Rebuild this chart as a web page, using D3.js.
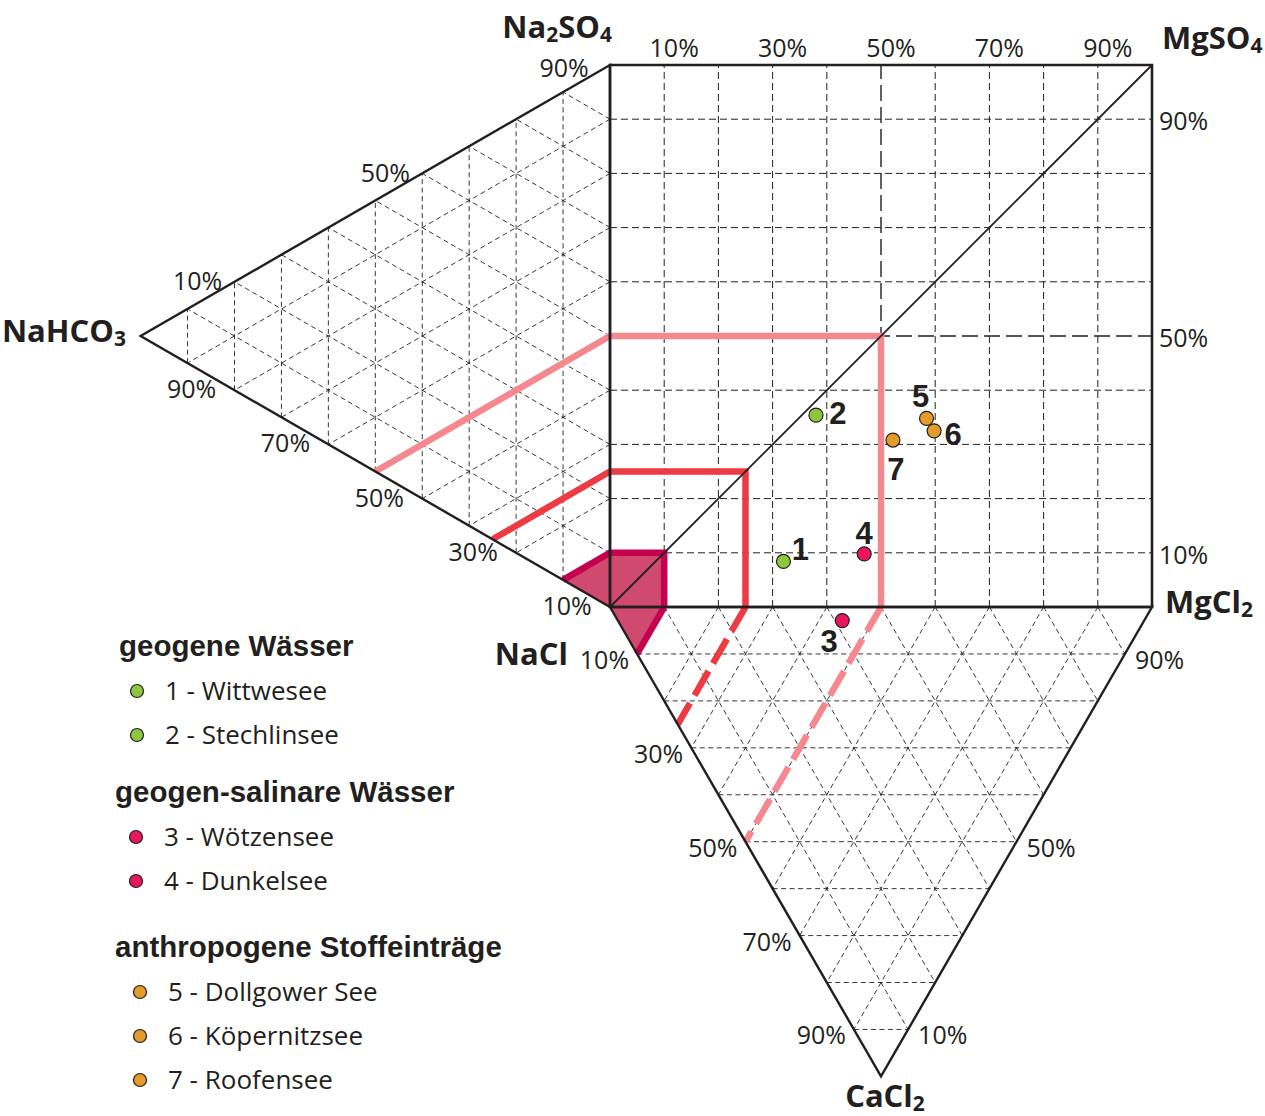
<!DOCTYPE html>
<meta charset="utf-8">

<!-- Load d3.js -->
<script src="https://cdn.jsdelivr.net/npm/d3@7"></script>

<style>
  body { margin: 0; background: #fff; }
  text { fill: #231f20; }
</style>

<body>
<div id="chart"></div>

<script>

// grid steps (%)
var steps = [10, 20, 30, 40, 50, 60, 70, 80, 90];

// tick labels
var topTicks = [10, 30, 50, 70, 90];          // top of the square
var rightTicks = [90, 50, 10];                // right of the square
var leftUpperTicks = [10, 50, 90];            // Na2SO4 on the NaHCO3 - Na2SO4 side
var leftLowerTicks = [90, 70, 50, 30, 10];    // NaHCO3 on the NaHCO3 - NaCl side
var bottomLeftTicks = [10, 30, 50, 70, 90];   // CaCl2 on the NaCl - CaCl2 side
var bottomRightTicks = [90, 50, 10];          // MgCl2 on the MgCl2 - CaCl2 side

// limits of the three fields (%), outer to inner
var zoneLimits = [50, 25, 10];

// lakes
var lakeIds = [1, 2, 3, 4, 5, 6, 7];
var lakeNames = ["Wittwesee", "Stechlinsee", "Wötzensee", "Dunkelsee",
                 "Dollgower See", "Köpernitzsee", "Roofensee"];
var lakeGroup = [0, 0, 1, 1, 2, 2, 2];
var lakeMg  = [32.0, 38.0, 41.4, 46.9, 58.4, 59.8, 52.2];   // % along NaCl -> MgCl2
var lakeSO4 = [8.4, 35.4, 0, 9.8, 34.8, 32.5, 30.8];        // % along NaCl -> Na2SO4
var lakeCa  = [0, 0, 2.9, 0, 0, 0, 0];                      // % CaCl2 (lower triangle)

var groupNames = ["geogene Wässer", "geogen-salinare Wässer", "anthropogene Stoffeinträge"];

// styles
var zoneColors = ["#f4888e", "#ee3a43", "#c4004f"];
var zoneDashed = [true, true, false];
var groupColors = ["#8dc63f", "#e6175c", "#e39b2a"];
// number label offsets next to each point
var numDx = [17, 22, -13, 0, -6, 19, 3];
var numDy = [-1, 9, 31, -10, -11, 14, 40];

var W = 1265, H = 1116;

var svg = d3.select("#chart")
  .append("svg")
    .attr("width", W)
    .attr("height", H);

svg.append("rect").attr("width", W).attr("height", H).attr("fill", "#fff");

// square scales
var x = d3.scaleLinear().domain([0, 100]).range([610, 1152]);
var y = d3.scaleLinear().domain([0, 100]).range([607, 65]);
var side = x(100) - x(0);
var tri = side * Math.sqrt(3) / 2;

// left triangle: s = Na2SO4 %, h = NaHCO3 %
function left(s, h) { return [x(0) - h / 100 * tri, y(s) - h / 100 * side / 2]; }
// lower triangle: m = MgCl2 %, c = CaCl2 %
function bottom(m, c) { return [x(m) + c / 100 * side / 2, y(0) + c / 100 * tri]; }
function sq(a, b) { return [x(a), y(b)]; }

var line = d3.line();

// ---- dashed grid
var grid = svg.append("g").attr("fill", "none").attr("stroke", "#231f20");

steps.forEach(function(k) {
  var big = (k == 50);
  grid.append("path").attr("d", line([sq(k, 0), sq(k, 100)]))
    .attr("stroke-width", big ? 1.4 : 1)
    .attr("stroke-dasharray", big ? "16,6" : "7,4");
  grid.append("path").attr("d", line([sq(0, k), sq(100, k)]))
    .attr("stroke-width", big ? 1.4 : 1)
    .attr("stroke-dasharray", big ? "16,6" : "7,4");

  // left triangle
  [[left(0, k), left(100 - k, k)],
   [left(k, 0), left(k, 100 - k)],
   [left(100 - k, 0), left(0, 100 - k)]].forEach(function(seg) {
    grid.append("path").attr("d", line(seg))
      .attr("stroke-width", 0.9).attr("stroke-dasharray", "5,3.5");
  });

  // lower triangle
  [[bottom(0, k), bottom(100 - k, k)],
   [bottom(k, 0), bottom(k, 100 - k)],
   [bottom(100 - k, 0), bottom(0, 100 - k)]].forEach(function(seg) {
    grid.append("path").attr("d", line(seg))
      .attr("stroke-width", 0.9).attr("stroke-dasharray", "5,3.5");
  });
});

// ---- fields
var zones = svg.append("g").attr("fill", "none");
zoneLimits.forEach(function(L, i) {
  if (!zoneDashed[i]) {
    zones.append("path")
      .attr("d", line([left(0, 0), left(0, L), left(L, 0), sq(L, L), sq(L, 0), bottom(0, L)]) + "Z")
      .attr("fill", "#cf4a6e");
  }
  zones.append("path")
    .attr("d", line([left(0, L), left(L, 0), sq(L, L), sq(L, 0)]))
    .attr("stroke", zoneColors[i])
    .attr("stroke-width", 6.5);
  zones.append("path")
    .attr("d", line([bottom(L, 0), bottom(0, L)]))
    .attr("stroke", zoneColors[i])
    .attr("stroke-width", 6.5)
    .attr("stroke-dasharray", zoneDashed[i] ? "28,9" : null);
});

// ---- outlines
var frame = svg.append("g").attr("fill", "none").attr("stroke", "#231f20")
  .attr("stroke-linejoin", "miter");
frame.append("path").attr("d", line([sq(0, 0), sq(0, 100), sq(100, 100), sq(100, 0)]) + "Z")
  .attr("stroke-width", 2.6);
frame.append("path").attr("d", line([left(0, 0), left(0, 100), left(100, 0)]) + "Z")
  .attr("stroke-width", 2.4);
frame.append("path").attr("d", line([bottom(0, 0), bottom(0, 100), bottom(100, 0)]) + "Z")
  .attr("stroke-width", 2.4);
frame.append("path").attr("d", line([sq(0, 0), sq(100, 100)]))
  .attr("stroke-width", 1.8);

// ---- lake points
function lakePos(i) {
  if (lakeCa[i] > 0) return bottom(lakeMg[i], lakeCa[i]);
  return sq(lakeMg[i], lakeSO4[i]);
}
var pts = svg.append("g");
lakeIds.forEach(function(id, i) {
  var p = lakePos(i);
  pts.append("circle")
    .attr("cx", p[0]).attr("cy", p[1]).attr("r", 7)
    .attr("fill", groupColors[lakeGroup[i]])
    .attr("stroke", "#231f20").attr("stroke-width", 1.2);
  pts.append("text")
    .attr("x", p[0] + numDx[i]).attr("y", p[1] + numDy[i])
    .attr("text-anchor", "middle")
    .style("font-family", "'Liberation Sans', Arial, sans-serif")
    .style("font-weight", "bold")
    .style("font-size", "31px")
    .text(id);
});

// ---- percent labels
var pct = svg.append("g")
  .style("font-family", "'Open Sans', sans-serif")
  .style("font-size", "25px");

function pctLabel(px, py, anchor, v) {
  pct.append("text").attr("x", px).attr("y", py)
    .attr("text-anchor", anchor).text(v + "%");
}
topTicks.forEach(function(v) { pctLabel(x(v) + 10, 57, "middle", v); });
rightTicks.forEach(function(v) { pctLabel(1159, y(v) + 11, "start", v); });
leftUpperTicks.forEach(function(v) {
  var p = left(v, 100 - v);
  // the label next to the Na2SO4 corner sits a bit lower and closer
  var near = v > 80;
  pctLabel(p[0] + (near ? 1 : 10), p[1] - (near ? 15 : 19), "middle", v);
});
leftLowerTicks.forEach(function(v) {
  var p = left(0, v);
  pctLabel(p[0] + 4, p[1] + 35, "middle", v);
});
bottomLeftTicks.forEach(function(v) {
  var p = bottom(0, v);
  pctLabel(p[0] - 8, p[1] + 15, "end", v);
});
bottomRightTicks.forEach(function(v) {
  var p = bottom(v, 100 - v);
  pctLabel(p[0] + 10, p[1] + 15, "start", v);
});

// ---- corner labels (with subscripts)
function chem(px, py, anchor, parts) {
  var t = svg.append("text").attr("x", px).attr("y", py)
    .attr("text-anchor", anchor)
    .style("font-family", "'Open Sans', sans-serif")
    .style("font-weight", "bold")
    .style("font-size", "31px");
  parts.forEach(function(p) {
    if (p[1]) t.append("tspan").attr("dy", 4).style("font-size", "21px").text(p[0])
    else t.append("tspan").attr("dy", t.selectAll("tspan").size() ? -4 : 0).text(p[0]);
  });
  return t;
}
chem(612, 42, "end", [["Na", 0], ["2", 1], ["SO", 0], ["4", 1]]);
chem(1162, 53, "start", [["MgSO", 0], ["4", 1]]);
chem(126, 346, "end", [["NaHCO", 0], ["3", 1]]);
chem(1165, 617, "start", [["MgCl", 0], ["2", 1]]);
chem(568, 669, "end", [["NaCl", 0]]);
chem(885, 1111, "middle", [["CaCl", 0], ["2", 1]]);

// ---- legend
var headY = [656, 802, 957];
var headX = [119, 115, 115];
var indent = [0, -1, 3];
var legend = svg.append("g");
groupNames.forEach(function(g, gi) {
  legend.append("text")
    .attr("x", headX[gi]).attr("y", headY[gi])
    .style("font-family", "'Liberation Sans', Arial, sans-serif")
    .style("font-weight", "bold")
    .style("font-size", "29.5px")
    .text(g);
  var members = lakeIds.filter(function(d, i) { return lakeGroup[i] == gi; });
  members.forEach(function(id, j) {
    var i = id - 1;
    var cy = headY[gi] + 35 + 44 * j;
    legend.append("circle")
      .attr("cx", 137 + indent[gi]).attr("cy", cy).attr("r", 6.5)
      .attr("fill", groupColors[gi])
      .attr("stroke", "#231f20").attr("stroke-width", 1.2);
    legend.append("text")
      .attr("x", 165 + indent[gi]).attr("y", cy + 9)
      .style("font-family", "'Open Sans', sans-serif")
      .style("font-size", "26px")
      .text(id + " - " + lakeNames[i]);
  });
});

</script>
</body>
